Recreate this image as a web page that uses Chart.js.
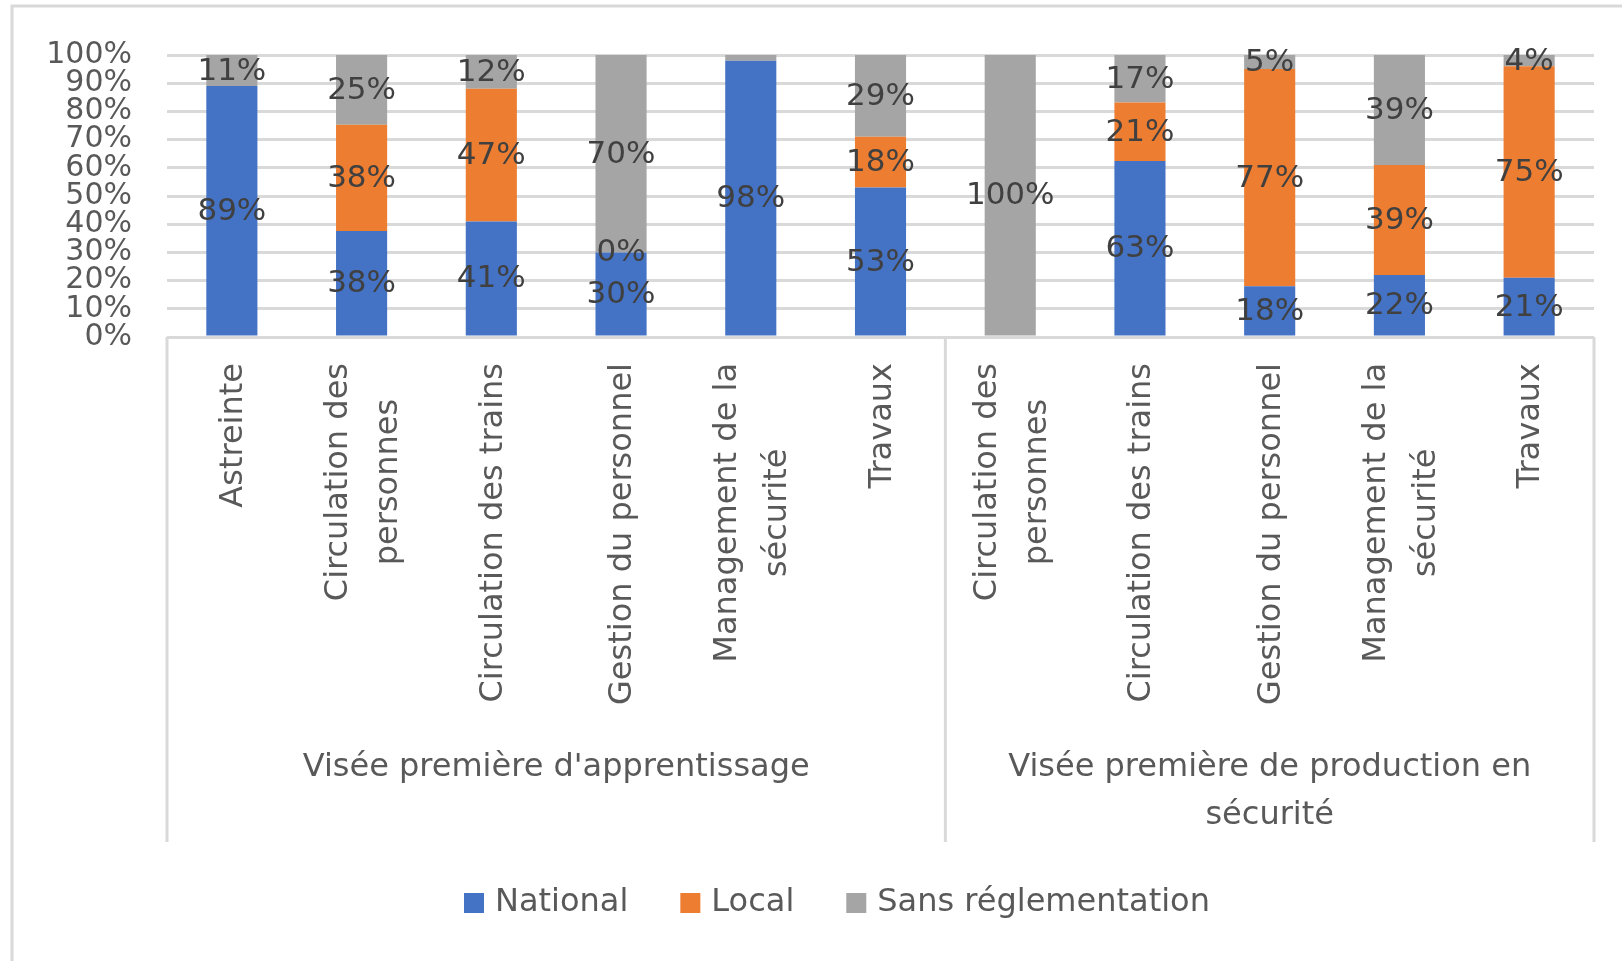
<!DOCTYPE html>
<html>
<head>
<meta charset="utf-8">
<script src="https://cdn.jsdelivr.net/npm/chart.js@4.4.1/dist/chart.umd.min.js"></script>
<style>
  html, body { margin: 0; padding: 0; background: #ffffff; }
  #wrap { width: 1622px; height: 961px; position: relative; }
</style>
</head>
<body>
<div id="wrap"><canvas id="c" width="1622" height="961"></canvas></div>
<script>
// ---- Data ----
const categories = [
  ["Astreinte"],
  ["Circulation des", "personnes"],
  ["Circulation des trains"],
  ["Gestion du personnel"],
  ["Management de la", "sécurité"],
  ["Travaux"],
  ["Circulation des", "personnes"],
  ["Circulation des trains"],
  ["Gestion du personnel"],
  ["Management de la", "sécurité"],
  ["Travaux"]
];
const groupLabels = [
  ["Visée première d'apprentissage"],
  ["Visée première de production en", "sécurité"]
];
const groupSizes = [6, 5];
const seriesNames = ["National", "Local", "Sans réglementation"];
const national = [89, 38, 41, 30, 98, 53, null, 63, 18, 22, 21];
const local    = [null, 38, 47, 0, null, 18, null, 21, 77, 39, 75];
const sans     = [11, 25, 12, 70, 2, 29, 100, 17, 5, 39, 4];
const yTicks = [0, 10, 20, 30, 40, 50, 60, 70, 80, 90, 100];

const colors = ["#4472C4", "#ED7D31", "#A5A5A5"];
const raw = [national, local, sans];

// 100% stacked: each column is normalised to its own total (as in the source chart)
const totals = categories.map((_, i) => raw.reduce((s, arr) => s + (arr[i] == null ? 0 : arr[i]), 0));
const datasets = raw.map((arr, k) => ({
  label: seriesNames[k],
  data: arr.map((v, i) => v == null ? null : v / totals[i] * 100),
  rawValues: arr,
  backgroundColor: colors[k],
  borderWidth: 0,
  categoryPercentage: 0.394,
  barPercentage: 1.0
}));

const TEXT = "#595959";
const LABEL = "#404040";
const LINE = "#D9D9D9";
const FONT = "'DejaVu Sans', sans-serif";

const customDraw = {
  id: 'customDraw',
  beforeDraw(chart) {
    const ctx = chart.ctx;
    ctx.save();
    ctx.fillStyle = '#ffffff';
    ctx.fillRect(0, 0, chart.width, chart.height);
    // outer frame (top and left)
    ctx.strokeStyle = LINE;
    ctx.lineWidth = 3;
    ctx.beginPath();
    ctx.moveTo(12, chart.height);
    ctx.lineTo(12, 6);
    ctx.lineTo(chart.width, 6);
    ctx.stroke();
    ctx.restore();
  },
  afterDatasetsDraw(chart) {
    const ctx = chart.ctx;
    // data labels
    ctx.save();
    ctx.font = "31px " + FONT;
    ctx.fillStyle = LABEL;
    ctx.textAlign = 'center';
    ctx.textBaseline = 'middle';
    chart.data.datasets.forEach((ds, k) => {
      const meta = chart.getDatasetMeta(k);
      meta.data.forEach((el, i) => {
        const v = ds.rawValues[i];
        if (v == null) return;
        if (v !== 0 && v < 3) return;
        const p = el.getProps(['x', 'y', 'base'], true);
        ctx.fillText(v + '%', p.x, (p.y + p.base) / 2 + 1);
      });
    });
    ctx.restore();
  },
  afterDraw(chart) {
    const ctx = chart.ctx;
    const xs = chart.scales.x;
    const area = chart.chartArea;
    const boxBottom = 842;
    ctx.save();
    // category box lines
    ctx.strokeStyle = LINE;
    ctx.lineWidth = 3;
    const bounds = [xs.left];
    let acc = 0;
    groupSizes.forEach((n, g) => {
      acc += n;
      if (acc < categories.length) {
        bounds.push((xs.getPixelForValue(acc - 1) + xs.getPixelForValue(acc)) / 2);
      }
    });
    bounds.push(xs.right);
    bounds.forEach(bx => {
      ctx.beginPath();
      ctx.moveTo(bx, area.bottom);
      ctx.lineTo(bx, boxBottom);
      ctx.stroke();
    });
    // category labels (rotated, centred lines)
    ctx.font = "32px " + FONT;
    ctx.fillStyle = TEXT;
    ctx.textAlign = 'center';
    ctx.textBaseline = 'middle';
    categories.forEach((lines, i) => {
      const cx = xs.getPixelForValue(i);
      const maxW = Math.max(...lines.map(l => ctx.measureText(l).width));
      ctx.save();
      ctx.translate(cx, area.bottom + 26);
      ctx.rotate(-Math.PI / 2);
      lines.forEach((l, j) => {
        const off = (j - (lines.length - 1) / 2) * 50 + 2;
        ctx.fillText(l, -maxW / 2, off);
      });
      ctx.restore();
    });
    // group labels
    for (let g = 0; g < groupLabels.length; g++) {
      const cx = (bounds[g] + bounds[g + 1]) / 2;
      groupLabels[g].forEach((l, j) => {
        ctx.fillText(l, cx, 768 + j * 48);
      });
    }
    // legend
    ctx.font = "32px " + FONT;
    ctx.textAlign = 'left';
    let lx = 464;
    const ly = 903;
    chart.data.datasets.forEach((ds, k) => {
      ctx.fillStyle = ds.backgroundColor;
      ctx.fillRect(lx, ly - 10, 20, 20);
      ctx.fillStyle = TEXT;
      ctx.fillText(ds.label, lx + 31, ly);
      lx += 31 + ctx.measureText(ds.label).width + 52;
    });
    ctx.restore();
  }
};

new Chart(document.getElementById('c'), {
  type: 'bar',
  data: {
    labels: categories,
    datasets: datasets
  },
  options: {
    responsive: false,
    animation: false,
    maintainAspectRatio: false,
    layout: { padding: { top: 55, left: 0, right: 28, bottom: 0 } },
    plugins: {
      legend: { display: false },
      tooltip: { enabled: false }
    },
    scales: {
      x: {
        stacked: true,
        grid: { display: false },
        border: { display: false },
        ticks: { display: false },
        afterFit(s) { s.height = 624; }
      },
      y: {
        stacked: true,
        min: 0,
        max: 100,
        afterBuildTicks(s) { s.ticks = yTicks.map(v => ({ value: v })); },
        grid: { color: LINE, lineWidth: 3, drawTicks: false },
        border: { display: false },
        ticks: {
          autoSkip: false,
          padding: 35,
          color: TEXT,
          font: { family: FONT, size: 30, lineHeight: 0.9 },
          callback: v => v + '%'
        },
        afterFit(s) { s.width = 167; }
      }
    }
  },
  plugins: [customDraw]
});
</script>
</body>
</html>
